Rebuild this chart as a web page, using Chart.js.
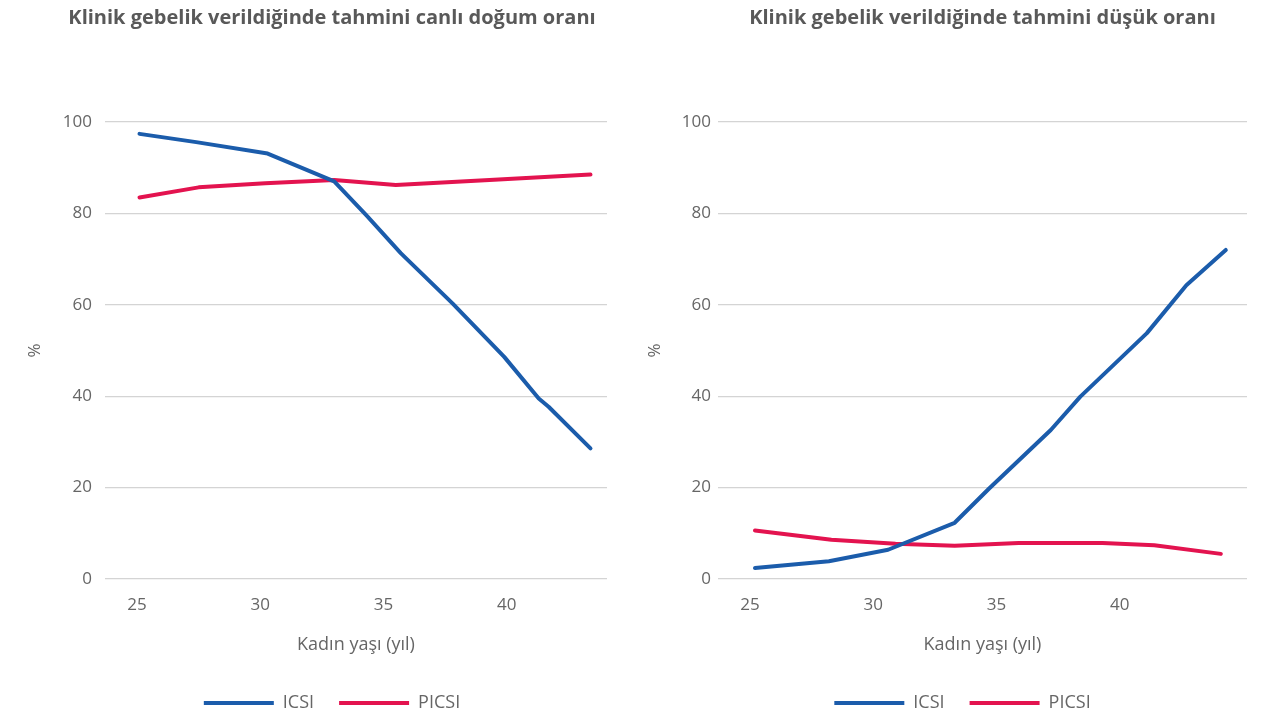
<!DOCTYPE html>
<html lang="tr">
<head>
<meta charset="utf-8">
<title>Klinik gebelik</title>
<script src="https://cdn.jsdelivr.net/npm/chart.js@4.4.1/dist/chart.umd.min.js"></script>
<style>
    html, body { margin: 0; padding: 0; background: #fff; overflow: hidden; width: 1284px; height: 715px; }
    .panel { position: absolute; top: 0; width: 642px; height: 722px; }
    #left-panel { left: 0; }
    #right-panel { left: 642px; }
</style>
</head>
<body>
<div class="panel" id="left-panel"><canvas id="live-chart" width="642" height="722"></canvas></div>
<div class="panel" id="right-panel"><canvas id="miss-chart" width="642" height="722"></canvas></div>
<script>
// x axis ticks (age) and y ticks
const ageTicks = [25, 30, 35, 40];
const percentTicks = [0, 20, 40, 60, 80, 100];
const seriesNames = ['ICSI', 'PICSI'];

// Left: estimated live birth rate
const liveIcsiAge = [25.1, 27.4, 30.3, 33.0, 34.3, 35.7, 37.8, 39.9, 41.3, 41.7, 43.4];
const liveIcsi = [97.4, 95.6, 93.1, 87.0, 79.6, 71.3, 60.3, 48.6, 39.5, 37.7, 28.6];
const livePicsiAge = [25.1, 27.5, 30.2, 33.0, 35.5, 39.3, 43.4];
const livePicsi = [83.5, 85.7, 86.6, 87.3, 86.2, 87.3, 88.5];

// Right: estimated miscarriage rate
const missIcsiAge = [25.2, 28.2, 30.6, 33.3, 34.7, 37.2, 38.4, 41.1, 42.7, 44.3];
const missIcsi = [2.4, 3.9, 6.4, 12.3, 19.8, 32.6, 39.9, 53.8, 64.3, 72.0];
const missPicsiAge = [25.2, 28.3, 30.9, 33.3, 35.9, 39.3, 41.4, 44.1];
const missPicsi = [10.6, 8.6, 7.7, 7.3, 7.9, 7.9, 7.4, 5.5];

const blue = '#1b5cab';
const red = '#e3134f';
const titleGray = '#595959';
const tickGray = '#666666';
const gridGray = '#d4d4d4';
const fontFamily = '"Open Sans", Lato, sans-serif';

function toPoints(xs, ys) {
    return xs.map((x, i) => ({ x: x, y: ys[i] }));
}

function lineDataset(label, xs, ys, color) {
    return {
        label: label,
        data: toPoints(xs, ys),
        borderColor: color,
        backgroundColor: color,
        borderWidth: 4,
        borderCapStyle: 'round',
        borderJoinStyle: 'round',
        pointRadius: 0,
        tension: 0,
        fill: false
    };
}

function createChart(canvasId, opts) {
    return new Chart(document.getElementById(canvasId), {
        type: 'line',
        data: {
            datasets: [
                lineDataset(seriesNames[0], opts.icsiAge, opts.icsi, blue),
                lineDataset(seriesNames[1], opts.picsiAge, opts.picsi, red)
            ]
        },
        options: {
            responsive: false,
            animation: false,
            devicePixelRatio: 1,
            layout: {
                padding: { left: opts.padLeft, right: opts.padRight, top: 0, bottom: 0 }
            },
            plugins: {
                title: {
                    display: true,
                    text: opts.title,
                    fullSize: opts.titleFull,
                    color: titleGray,
                    font: { family: fontFamily, size: 20, weight: 'bold', lineHeight: 1.2 },
                    padding: { top: 6, bottom: 92 }
                },
                legend: {
                    display: true,
                    position: 'bottom',
                    labels: {
                        usePointStyle: true,
                        pointStyle: 'line',
                        pointStyleWidth: 70,
                        color: tickGray,
                        padding: 25,
                        font: { family: fontFamily, size: 18 }
                    }
                },
                tooltip: { enabled: false }
            },
            scales: {
                x: {
                    type: 'linear',
                    min: opts.xMin,
                    max: opts.xMax,
                    afterBuildTicks: (scale) => {
                        scale.ticks = ageTicks.map(v => ({ value: v }));
                    },
                    afterFit: (scale) => { scale.height = 90; },
                    grid: { display: false, drawTicks: false },
                    border: { display: false },
                    ticks: {
                        color: tickGray,
                        padding: 16,
                        maxRotation: 0,
                        font: { family: fontFamily, size: 17 }
                    },
                    title: {
                        display: true,
                        text: 'Kadın yaşı (yıl)',
                        color: tickGray,
                        font: { family: fontFamily, size: 18, lineHeight: 1.2 },
                        padding: { top: 0, bottom: 13.2 }
                    }
                },
                y: {
                    min: 0,
                    max: 100,
                    afterBuildTicks: (scale) => {
                        scale.ticks = percentTicks.map(v => ({ value: v }));
                    },
                    afterFit: (scale) => { scale.width = opts.yWidth; },
                    grid: { color: gridGray, lineWidth: 1.3, drawTicks: false },
                    border: { display: false },
                    ticks: {
                        color: tickGray,
                        padding: opts.yTickPad,
                        font: { family: fontFamily, size: 17 }
                    },
                    title: {
                        display: true,
                        text: '%',
                        color: tickGray,
                        font: { family: fontFamily, size: 17, lineHeight: 1.2 },
                        padding: { top: opts.yTitlePad, bottom: 0 }
                    }
                }
            }
        }
    });
}

createChart('live-chart', {
    title: 'Klinik gebelik verildiğinde tahmini canlı doğum oranı',
    titleFull: true,
    icsiAge: liveIcsiAge, icsi: liveIcsi,
    picsiAge: livePicsiAge, picsi: livePicsi,
    xMin: 23.7, xMax: 44.07,
    padLeft: 57, padRight: 35,
    yWidth: 48, yTickPad: 13, yTitlePad: -32.2
});

createChart('miss-chart', {
    title: 'Klinik gebelik verildiğinde tahmini düşük oranı',
    titleFull: false,
    icsiAge: missIcsiAge, icsi: missIcsi,
    picsiAge: missPicsiAge, picsi: missPicsi,
    xMin: 23.7, xMax: 45.16,
    padLeft: 36, padRight: 37,
    yWidth: 40, yTickPad: 7, yTitlePad: -33.2
});
</script>
</body>
</html>
